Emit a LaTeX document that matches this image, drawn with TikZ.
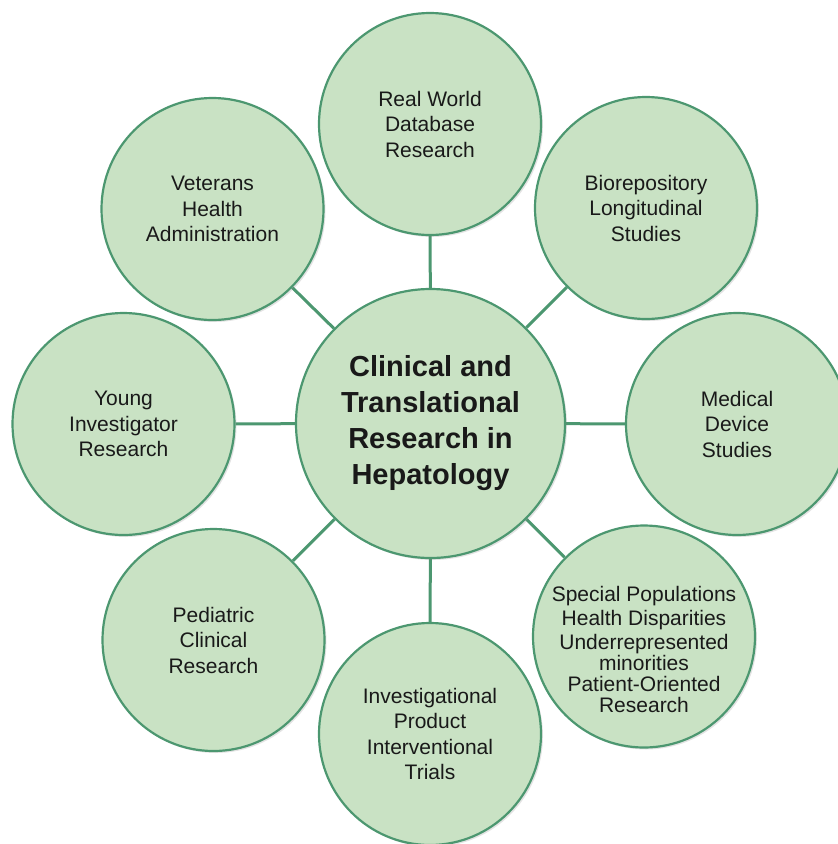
\documentclass[tikz,border=0pt]{standalone}
\usepackage{fontspec}
\setmainfont{Liberation Sans}
\usetikzlibrary{shadows,backgrounds}
\definecolor{bubfill}{RGB}{201,226,196}
\definecolor{bubline}{RGB}{76,151,112}
\definecolor{txt}{RGB}{25,25,25}
\begin{document}
\begin{tikzpicture}[x=1pt,y=-1pt,
  bubble/.style={circle, draw=bubline, line width=2.2pt, fill=bubfill,
    minimum size=222pt, inner sep=0pt, align=center, text=txt,
    font=\fontsize{21}{25.5}\selectfont,
    drop shadow={opacity=0.22, shadow xshift=2pt, shadow yshift=-2pt}},
  hub/.style={bubble, minimum size=269pt, font=\fontsize{29}{36}\selectfont\bfseries},
  label text/.style={align=center, text=txt, inner sep=0pt, font=\fontsize{21}{24}\selectfont},
  link/.style={draw=bubline, line width=3pt}]
\useasboundingbox (0,0) rectangle (838,844);

\node[hub] (c) at (430.5,423.5) {Clinical and\\Translational\\Research in\\Hepatology};
\node[bubble] (t) at (430,124) {Real World\\Database\\Research};
\node[bubble] (tr) at (646,208) {Biorepository\\Longitudinal\\Studies};
\node[bubble] (r) at (737,424) {Medical\\Device\\Studies};
\node[bubble] (br) at (644,636.5) {};
\node[label text, yshift=-13pt] (brt) at (br.center) {Special Populations\\Health Disparities\\Underrepresented\\[-2.7pt]minorities\\[-2.7pt]Patient-Oriented\\[-2.7pt]Research};
\node[bubble] (b) at (430,734) {Investigational\\Product\\Interventional\\Trials};
\node[bubble] (bl) at (213.5,640) {Pediatric\\Clinical\\Research};
\node[bubble] (l) at (123.5,424) {Young\\Investigator\\Research};
\node[bubble] (tl) at (212.5,209) {Veterans\\Health\\Administration};

\begin{pgfonlayer}{background}
\foreach \n in {t,tr,r,br,b,bl,l,tl} \draw[link] (c) -- (\n);
\end{pgfonlayer}
\end{tikzpicture}
\end{document}
